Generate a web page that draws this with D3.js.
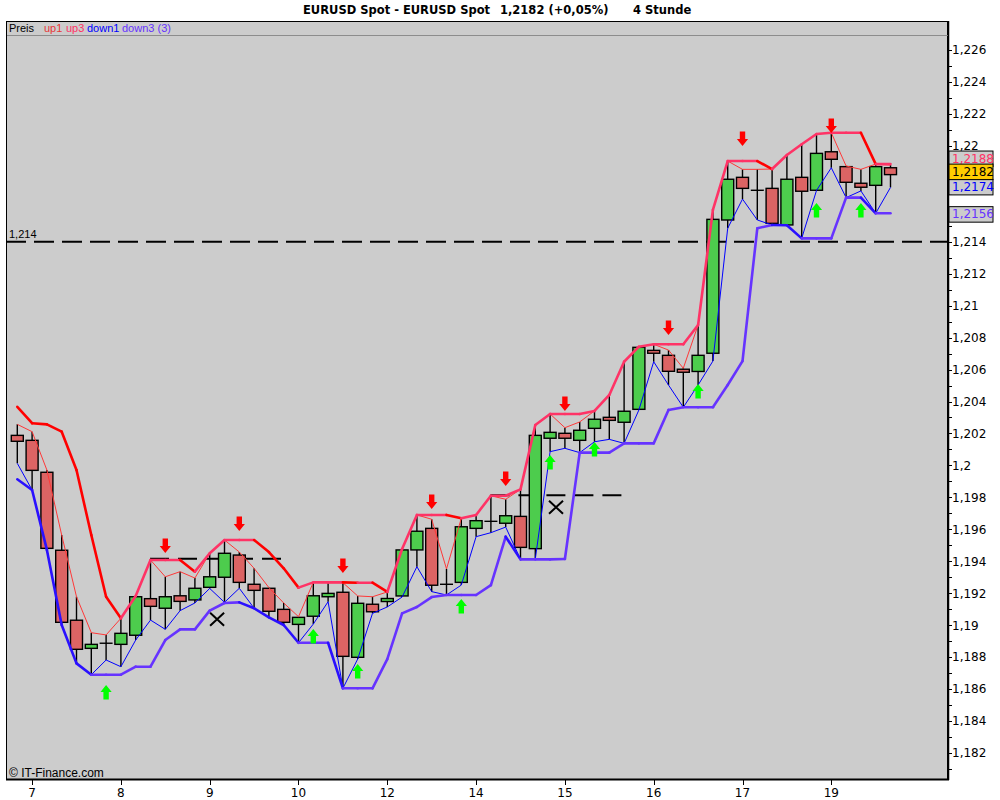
<!DOCTYPE html>
<html>
<head>
<meta charset="utf-8">
<script src="https://cdn.jsdelivr.net/npm/d3@7"></script>
<style>
body { margin: 0; background: #fff; }
svg { display: block; }
</style>
</head>
<body>
<svg id="chart" width="1000" height="800" font-family="DejaVu Sans, sans-serif"></svg>
<script>
// 4-hour bars, EURUSD (bar 0 .. 59)
const opens = [1.20188, 1.20157, 1.19957, 1.19469, 1.19031, 1.18855, 1.18887, 1.18880, 1.18937, 1.19166,
	1.19106, 1.19184, 1.19158, 1.19237, 1.19300, 1.19439, 1.19256, 1.19231, 1.19099, 1.19005,
	1.19056, 1.19178, 1.19206, 1.18799, 1.19131, 1.19148, 1.19183, 1.19471, 1.19606, 1.19256,
	1.19268, 1.19606, 1.19650, 1.19638, 1.19681, 1.19479, 1.20170, 1.20201, 1.20157, 1.20232,
	1.20301, 1.20270, 1.20351, 1.20720, 1.20689, 1.20602, 1.20588, 1.20702, 1.21536, 1.21803,
	1.21722, 1.21734, 1.21505, 1.21803, 1.21722, 1.21963, 1.21870, 1.21766, 1.21753, 1.21863];
const highs = [1.20257, 1.20211, 1.19971, 1.19564, 1.19178, 1.18953, 1.18939, 1.19043, 1.19183, 1.19408,
	1.19303, 1.19335, 1.19295, 1.19450, 1.19533, 1.19458, 1.19356, 1.19235, 1.19139, 1.19053,
	1.19268, 1.19266, 1.19266, 1.19183, 1.19178, 1.19208, 1.19477, 1.19690, 1.19663, 1.19352,
	1.19669, 1.19690, 1.19810, 1.19788, 1.19850, 1.20253, 1.20322, 1.20236, 1.20272, 1.20341,
	1.20441, 1.20649, 1.20743, 1.20758, 1.20722, 1.20608, 1.20879, 1.21599, 1.21905, 1.21853,
	1.21853, 1.21855, 1.21943, 1.22010, 1.22074, 1.22082, 1.21874, 1.21853, 1.21886, 1.21880];
const lows = [1.20013, 1.19846, 1.19471, 1.19001, 1.18761, 1.18690, 1.18782, 1.18740, 1.18907, 1.19032,
	1.18974, 1.19091, 1.19139, 1.19230, 1.19143, 1.19231, 1.19106, 1.19049, 1.19001, 1.18890,
	1.19007, 1.19147, 1.18605, 1.18788, 1.19074, 1.19114, 1.19176, 1.19366, 1.19210, 1.19189,
	1.19251, 1.19554, 1.19579, 1.19614, 1.19412, 1.19414, 1.20086, 1.20107, 1.20080, 1.20148,
	1.20163, 1.20138, 1.20347, 1.20649, 1.20503, 1.20364, 1.20503, 1.20653, 1.21484, 1.21667,
	1.21536, 1.21505, 1.21503, 1.21421, 1.21721, 1.21863, 1.21676, 1.21718, 1.21578, 1.21740];
const closes = [1.20151, 1.19969, 1.19481, 1.19018, 1.18849, 1.18880, 1.18887, 1.18949, 1.19178, 1.19118,
	1.19178, 1.19149, 1.19231, 1.19303, 1.19450, 1.19268, 1.19218, 1.19087, 1.19018, 1.19049,
	1.19184, 1.19199, 1.18805, 1.19137, 1.19084, 1.19167, 1.19471, 1.19588, 1.19250, 1.19256,
	1.19616, 1.19654, 1.19650, 1.19685, 1.19487, 1.20188, 1.20207, 1.20170, 1.20220, 1.20289,
	1.20282, 1.20339, 1.20739, 1.20702, 1.20589, 1.20583, 1.20689, 1.21540, 1.21791, 1.21734,
	1.21722, 1.21515, 1.21791, 1.21716, 1.21953, 1.21916, 1.21772, 1.21741, 1.21870, 1.21820];

// channel lines (3 bars)
const up3 = [1.20367, 1.20264, 1.20257, 1.20211, 1.19971, 1.19564, 1.19178, 1.19043, 1.19183, 1.19408,
	1.19408, 1.19408, 1.19335, 1.19450, 1.19533, 1.19533, 1.19533, 1.19458, 1.19356, 1.19235,
	1.19268, 1.19268, 1.19268, 1.19266, 1.19266, 1.19208, 1.19477, 1.19690, 1.19690, 1.19690,
	1.19669, 1.19690, 1.19810, 1.19810, 1.19850, 1.20253, 1.20322, 1.20322, 1.20322, 1.20341,
	1.20441, 1.20649, 1.20743, 1.20758, 1.20758, 1.20758, 1.20879, 1.21599, 1.21905, 1.21905,
	1.21905, 1.21855, 1.21943, 1.22010, 1.22074, 1.22082, 1.22082, 1.22082, 1.21886, 1.21886];
const down3 = [1.19913, 1.19846, 1.19471, 1.19001, 1.18761, 1.18690, 1.18690, 1.18690, 1.18740, 1.18740,
	1.18907, 1.18974, 1.18974, 1.19091, 1.19139, 1.19143, 1.19106, 1.19049, 1.19001, 1.18890,
	1.18890, 1.18890, 1.18605, 1.18605, 1.18605, 1.18788, 1.19074, 1.19114, 1.19176, 1.19189,
	1.19189, 1.19189, 1.19251, 1.19554, 1.19412, 1.19412, 1.19412, 1.19414, 1.20080, 1.20080,
	1.20080, 1.20138, 1.20138, 1.20138, 1.20347, 1.20364, 1.20364, 1.20364, 1.20503, 1.20653,
	1.21484, 1.21505, 1.21503, 1.21421, 1.21421, 1.21421, 1.21676, 1.21676, 1.21578, 1.21578];

const dayLabels = ["7", "8", "9", "10", "12", "14", "15", "16", "17", "19"];
const dayIndex = [1, 7, 13, 19, 25, 31, 37, 43, 49, 55];
const yLabels = [1.182, 1.184, 1.186, 1.188, 1.19, 1.192, 1.194, 1.196, 1.198, 1.2, 1.202,
	1.204, 1.206, 1.208, 1.21, 1.212, 1.214, 1.216, 1.218, 1.22, 1.222, 1.224, 1.226];

// signals
const sellIdx = [10, 15, 22, 28, 33, 37, 44, 49, 55];
const sellPrice = [1.19452, 1.19589, 1.19327, 1.19727, 1.19871, 1.20341, 1.20816, 1.21999, 1.22081];
const buyIdx = [6, 20, 23, 30, 36, 39, 46, 54, 57];
const buyPrice = [1.18626, 1.18976, 1.18757, 1.19164, 1.20065, 1.20147, 1.20510, 1.21642, 1.21642];

// breakout levels and crosses
const levelFrom = [9, 32];
const levelTo = [18, 41];
const levelPrice = [1.19416, 1.19813];
const crossIdx = [13.5, 36.4];
const crossPrice = [1.19037, 1.19738];
const markPrice = 1.214;

// last values on the right scale (price box drawn last, on top)
const lastValues = [1.2188, 1.2174, 1.2156, 1.2182];
const lastText = ["#ff3366", "#0000ff", "#6633ff", "#000000"];
const lastFill = ["#cccccc", "#cccccc", "#cccccc", "#ffcc00"];
const lastShift = [-6.5, -0.5, -2, -3];

const plot = {left: 7, right: 948, top: 21, strip: 35, bottom: 780};

const svg = d3.select("#chart");
const x = d3.scaleLinear().domain([0, 59]).range([17.3, 890.5]);
const y = d3.scaleLinear().domain([1.182, 1.226]).range([753, 50]);
const fmt = v => String(+v.toFixed(4)).replace(".", ",");

// title
const title = svg.append("g").attr("font-weight", "bold").attr("font-size", "11.5px");
title.append("text").attr("x", 303).attr("y", 14).text("EURUSD Spot - EURUSD Spot");
title.append("text").attr("x", 500).attr("y", 14).text("1,2182 (+0,05%)");
title.append("text").attr("x", 633).attr("y", 14).text("4 Stunde");

// frame
svg.append("rect")
	.attr("x", plot.left - 0.5).attr("y", plot.top + 0.5)
	.attr("width", plot.right - plot.left).attr("height", plot.bottom - plot.top - 1)
	.attr("fill", "#cccccc").attr("stroke", "#000");
svg.append("line")
	.attr("x1", plot.left).attr("x2", plot.right)
	.attr("y1", plot.strip + 0.5).attr("y2", plot.strip + 0.5)
	.attr("stroke", "#8c8c8c");

// legend strip
const legend = [["Preis", 9, "#000"], ["up1", 44, "#e83838"], ["up3", 66, "#ff3366"],
	["down1", 87, "#0000ff"], ["down3 (3)", 122, "#6633ff"]];
svg.append("g").attr("font-family", "Liberation Sans, sans-serif").attr("font-size", "11px")
	.selectAll("text").data(legend).join("text")
	.attr("x", d => d[1]).attr("y", 32)
	.attr("fill", d => d[2]).text(d => d[0]);

svg.append("clipPath").attr("id", "clip").append("rect")
	.attr("x", plot.left).attr("y", plot.strip + 1)
	.attr("width", plot.right - plot.left).attr("height", plot.bottom - plot.strip - 2);
const g = svg.append("g").attr("clip-path", "url(#clip)");

// 1,214 mark line
g.append("line")
	.attr("x1", 6).attr("x2", plot.right)
	.attr("y1", y(markPrice)).attr("y2", y(markPrice))
	.attr("stroke", "#000").attr("stroke-width", 2).attr("stroke-dasharray", "20,8");
g.append("text").attr("x", 9).attr("y", y(markPrice) - 4)
	.attr("font-family", "Liberation Sans, sans-serif").attr("font-size", "11px")
	.text(fmt(markPrice));

// breakout levels
g.selectAll("line.level").data(levelPrice).join("line")
	.attr("x1", (d, i) => x(levelFrom[i]) - 0.5).attr("x2", (d, i) => x(levelTo[i]))
	.attr("y1", d => y(d)).attr("y2", d => y(d))
	.attr("stroke", "#000").attr("stroke-width", 2).attr("stroke-dasharray", "19,9");

crossPrice.forEach(function(p, i) {
	const cx = x(crossIdx[i]), cy = y(p);
	g.append("path")
		.attr("d", `M${cx - 7},${cy - 6.5}L${cx + 7},${cy + 6.5}M${cx - 7},${cy + 6.5}L${cx + 7},${cy - 6.5}`)
		.attr("stroke", "#000").attr("stroke-width", 2).attr("fill", "none");
});

// candles
const bars = d3.range(opens.length);
g.selectAll("line.wick").data(bars).join("line")
	.attr("x1", i => x(i)).attr("x2", i => x(i))
	.attr("y1", i => y(highs[i])).attr("y2", i => y(lows[i]))
	.attr("stroke", "#000").attr("stroke-width", 1.4);

const bodyH = i => Math.abs(y(opens[i]) - y(closes[i]));
g.selectAll("rect.body").data(bars.filter(i => bodyH(i) >= 1.5)).join("rect")
	.attr("x", i => x(i) - 6).attr("width", 12)
	.attr("y", i => y(Math.max(opens[i], closes[i])))
	.attr("height", bodyH)
	.attr("fill", i => closes[i] >= opens[i] ? "#4dcc4d" : "#dc6464")
	.attr("stroke", "#000").attr("stroke-width", 1.4);
g.selectAll("line.doji").data(bars.filter(i => bodyH(i) < 1.5)).join("line")
	.attr("x1", i => x(i) - 6.5).attr("x2", i => x(i) + 6.5)
	.attr("y1", i => y(closes[i])).attr("y2", i => y(closes[i]))
	.attr("stroke", "#000").attr("stroke-width", 1.4);

// thin lines: up1 = highs, down1 = lows
const line = d3.line().x((d, i) => x(i)).y(d => y(d));
g.append("path").attr("d", line(highs)).attr("fill", "none")
	.attr("stroke", "#ff3838").attr("stroke-width", 1);
g.append("path").attr("d", line(lows)).attr("fill", "none")
	.attr("stroke", "#0000ff").attr("stroke-width", 1);

// thick channel lines, coloured by direction
function channel(values, fallColor, riseColor) {
	g.append("g").selectAll("line").data(values.slice(1)).join("line")
		.attr("x1", (d, i) => x(i)).attr("x2", (d, i) => x(i + 1))
		.attr("y1", (d, i) => y(values[i])).attr("y2", d => y(d))
		.attr("stroke", (d, i) => d < values[i] ? fallColor : riseColor)
		.attr("stroke-width", 2.6).attr("stroke-linecap", "round");
}
channel(up3, "#ff0000", "#ff3366");
channel(down3, "#2a10ff", "#6633ff");

// arrows
g.selectAll("path.sell").data(sellPrice).join("path")
	.attr("d", (d, i) => {
		const cx = x(sellIdx[i]), ty = y(d);
		return `M${cx - 2.7},${ty - 14.5}h5.4v7.5h2.9L${cx},${ty}L${cx - 5.6},${ty - 7}h2.9Z`;
	})
	.attr("fill", "#ff0000");
g.selectAll("path.buy").data(buyPrice).join("path")
	.attr("d", (d, i) => {
		const cx = x(buyIdx[i]), ty = y(d);
		return `M${cx - 2.7},${ty + 14.5}h5.4v-7.5h2.9L${cx},${ty}L${cx - 5.6},${ty + 7}h2.9Z`;
	})
	.attr("fill", "#00ff00");

svg.append("text").attr("x", 9).attr("y", 777)
	.attr("font-family", "Liberation Sans, sans-serif").attr("font-size", "12px")
	.text("\u00a9 IT-Finance.com");

// right axis
const boxY = lastValues.map((v, i) => y(v) + lastShift[i]);
const minor = d3.range(1181, 1227).map(d => d / 1000);
svg.append("g").selectAll("line").data(minor).join("line")
	.attr("x1", plot.right).attr("x2", plot.right + 4)
	.attr("y1", d => Math.round(y(d)) + 0.5).attr("y2", d => Math.round(y(d)) + 0.5)
	.attr("stroke", "#000");
// labels hidden behind the value boxes are left out, as in the original
svg.append("g").selectAll("text")
	.data(yLabels.filter(v => boxY.every(b => Math.abs(b - y(v)) > 9)))
	.join("text")
	.attr("x", plot.right + 4).attr("y", d => y(d)).attr("dy", "0.36em")
	.attr("font-size", "12px").text(fmt);
svg.append("line")
	.attr("x1", plot.right + 0.5).attr("x2", plot.right + 0.5)
	.attr("y1", plot.top).attr("y2", plot.bottom)
	.attr("stroke", "#000").attr("stroke-width", 1.5);

// value boxes; the up label sits partly under the price box
const boxes = svg.append("g").selectAll("g").data(lastValues).join("g")
	.attr("transform", (d, i) => `translate(${plot.right + 1},${boxY[i]})`);
boxes.append("rect").attr("x", 0).attr("y", -7.5).attr("width", 44).attr("height", 15.5)
	.attr("fill", (d, i) => lastFill[i]).attr("stroke", "#000");
boxes.append("text").attr("x", 3).attr("dy", "0.36em").attr("font-size", "12px")
	.attr("fill", (d, i) => lastText[i]).text(fmt);

// bottom axis
svg.append("line")
	.attr("x1", plot.left - 1).attr("x2", plot.right + 1)
	.attr("y1", plot.bottom - 0.5).attr("y2", plot.bottom - 0.5)
	.attr("stroke", "#000").attr("stroke-width", 2);
svg.append("g").selectAll("line").data(dayIndex).join("line")
	.attr("x1", d => Math.round(x(d)) + 0.5).attr("x2", d => Math.round(x(d)) + 0.5)
	.attr("y1", plot.bottom).attr("y2", plot.bottom + 5)
	.attr("stroke", "#000");
svg.append("g").selectAll("text").data(dayLabels).join("text")
	.attr("x", (d, i) => x(dayIndex[i])).attr("y", 797)
	.attr("text-anchor", "middle").attr("font-size", "12px").text(d => d);
</script>
</body>
</html>
